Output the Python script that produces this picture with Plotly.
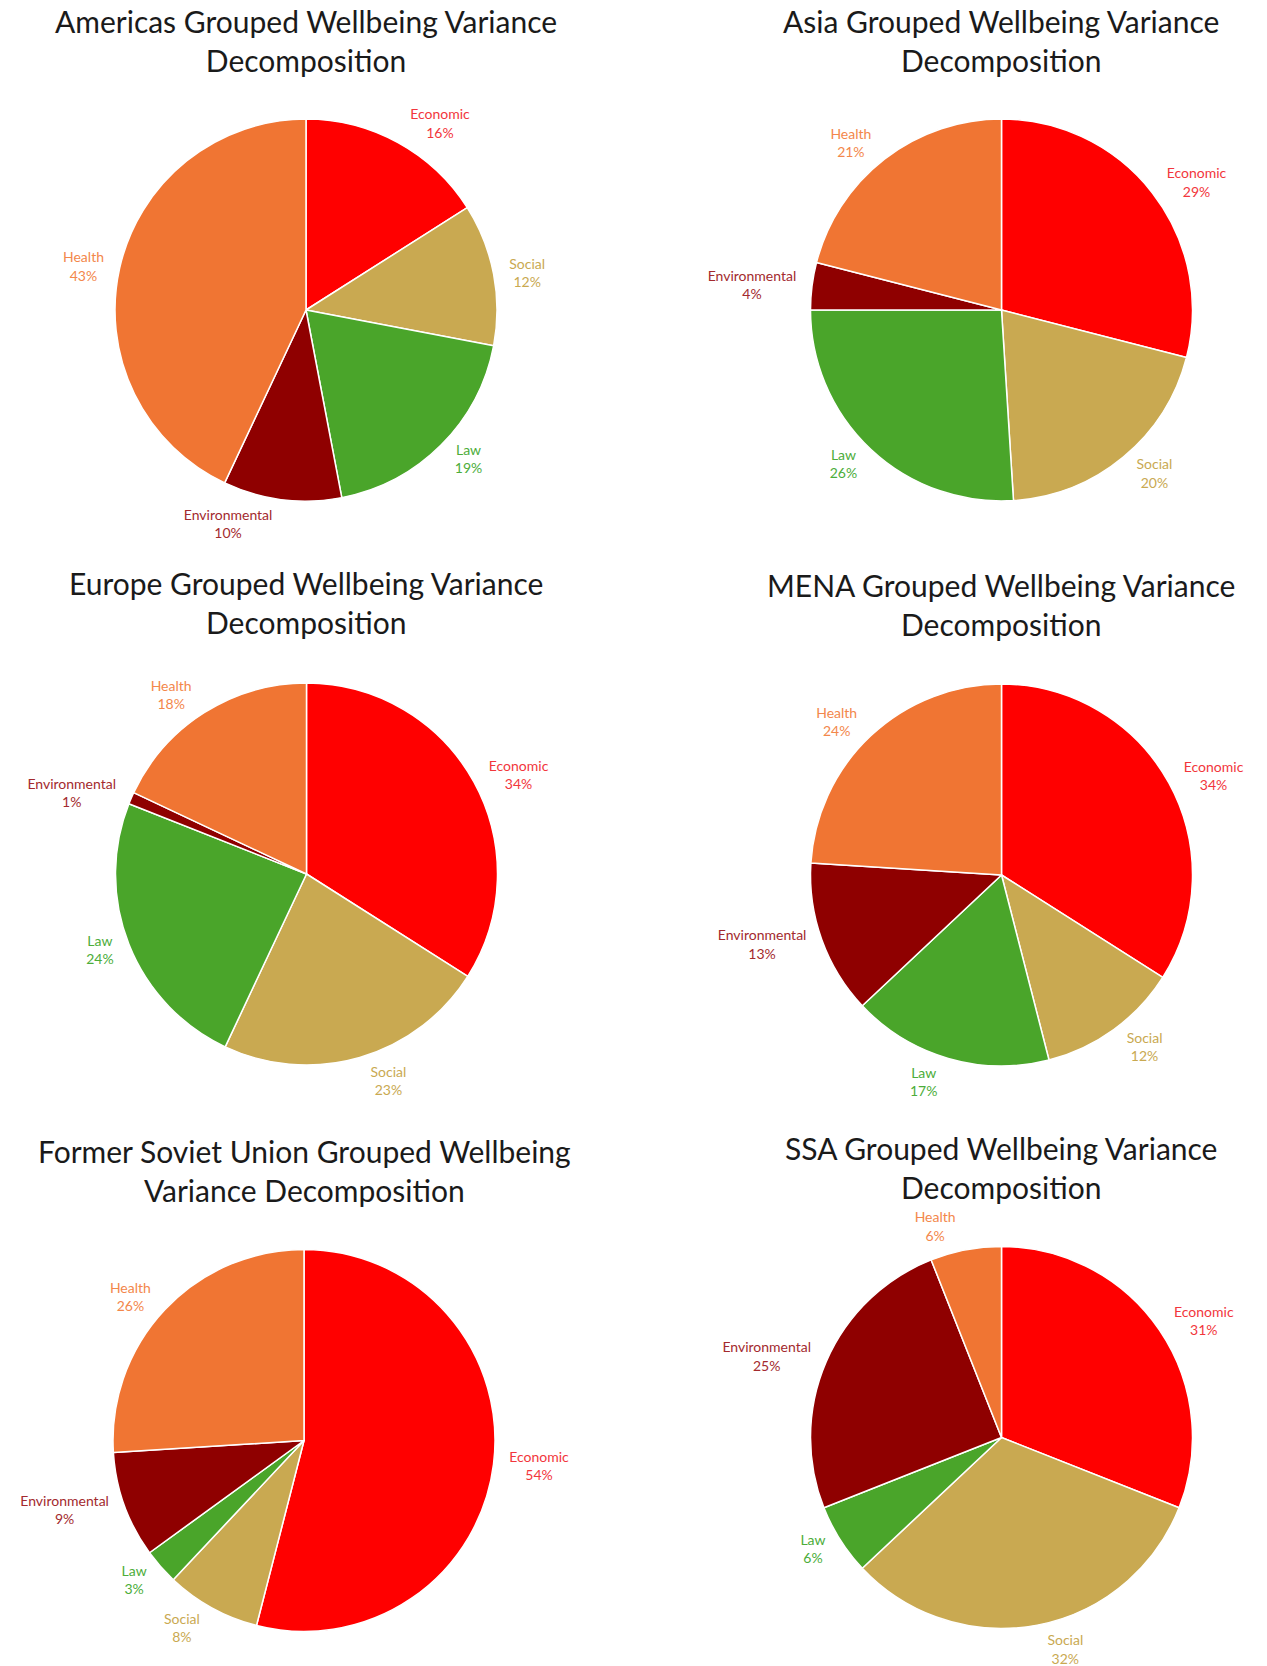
import plotly.graph_objects as go

# ---- data ----
categories = ["Economic", "Social", "Law", "Environmental", "Health"]

americas = [16, 12, 19, 10, 43]
asia = [29, 20, 26, 4, 21]
europe = [34, 23, 24, 1, 18]
mena = [34, 12, 17, 13, 24]
fsu = [54, 8, 3, 9, 26]
ssa = [31, 32, 6, 25, 6]

titles = [
    "Americas Grouped Wellbeing Variance<br>Decomposition",
    "Asia Grouped Wellbeing Variance<br>Decomposition",
    "Europe Grouped Wellbeing Variance<br>Decomposition",
    "MENA Grouped Wellbeing Variance<br>Decomposition",
    "Former Soviet Union Grouped Wellbeing<br>Variance Decomposition",
    "SSA Grouped Wellbeing Variance<br>Decomposition",
]
series = [americas, asia, europe, mena, fsu, ssa]

# ---- style ----
slice_colors = ["#FF0000", "#C9A951", "#4AA52A", "#8F0000", "#F07533"]
label_colors = ["#F2363C", "#C9A951", "#4CAD3A", "#A32A2E", "#F3874B"]

OFF = 8  # default page body margin
W, H = 1267 - OFF, 1666 - OFF
R = 191         # pie radius (px)
R_LABEL = 198   # radius of the invisible pie that carries the outside labels
centers = [(306, 310), (1001.5, 310), (306.5, 874), (1001.5, 875), (304, 1440.5), (1001.5, 1437.5)]
title_pos = [(306, 40), (1001, 40.5), (306, 602.5), (1001, 604.5), (304, 1170), (1001, 1167.5)]
FONT = "Lato, Open Sans, sans-serif"


def dom(cx, cy, r):
    cx -= OFF
    cy -= OFF
    return dict(x=[(cx - r) / W, (cx + r) / W], y=[1 - (cy + r) / H, 1 - (cy - r) / H])


fig = go.Figure()
for vals, (cx, cy) in zip(series, centers):
    # label carrier (transparent, slightly larger) drawn first
    fig.add_trace(go.Pie(
        labels=categories, values=vals, sort=False, direction="clockwise", rotation=0,
        marker=dict(colors=["rgba(0,0,0,0)"] * len(categories), line=dict(width=0)),
        texttemplate="%{label}<br>%{value}%",
        textposition="outside",
        outsidetextfont=dict(family=FONT, size=14, color=label_colors),
        showlegend=False, hoverinfo="skip", automargin=False,
        domain=dom(cx, cy, R_LABEL),
    ))
    # visible pie
    fig.add_trace(go.Pie(
        labels=categories, values=vals, sort=False, direction="clockwise", rotation=0,
        marker=dict(colors=slice_colors, line=dict(color="white", width=1.5)),
        textinfo="none", automargin=False,
        showlegend=False, hoverinfo="label+value",
        domain=dom(cx, cy, R),
    ))

for t, (tx, ty) in zip(titles, title_pos):
    fig.add_annotation(
        text=t, x=(tx - OFF) / W, y=1 - (ty - OFF) / H, xref="paper", yref="paper",
        xanchor="center", yanchor="middle", showarrow=False,
        font=dict(family=FONT, size=30, color="#1a1a1a"),
    )

fig.update_layout(
    width=W, height=H,
    margin=dict(l=0, r=0, t=0, b=0, autoexpand=False),
    paper_bgcolor="white", plot_bgcolor="white",
)

fig.write_html("out.html")
